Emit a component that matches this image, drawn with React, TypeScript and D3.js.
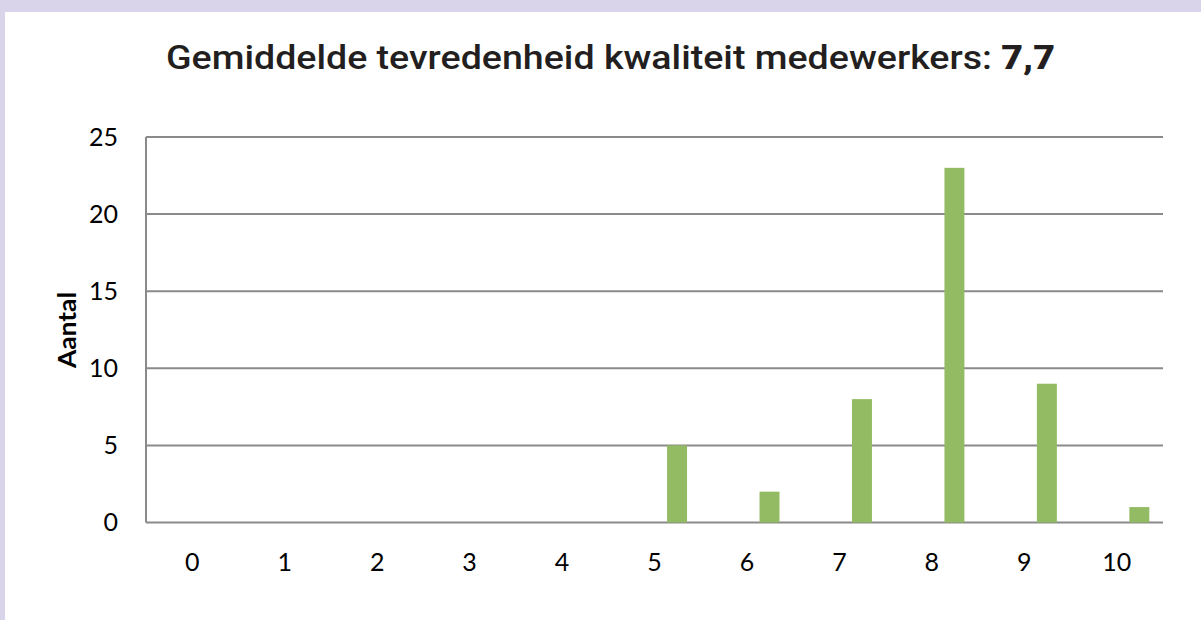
import * as d3 from "d3"
import { useEffect, useRef } from "react"

// scores 0..10 and number of respondents per score
const scores = ["0", "1", "2", "3", "4", "5", "6", "7", "8", "9", "10"]
const counts = [0, 0, 0, 0, 0, 5, 2, 8, 23, 9, 1]
const yTicks = [0, 5, 10, 15, 20, 25]
const titleText = "Gemiddelde tevredenheid kwaliteit medewerkers: "
const titleScore = "7,7"
const yLabel = "Aantal"

const W = 1201
const H = 620

const App = () => {
  const svgRef = useRef<SVGSVGElement | null>(null)

  useEffect(() => {
    if (!svgRef.current) return
    const svg = d3.select(svgRef.current)
    svg.selectAll("*").remove()

    const plot = { left: 146, right: 1163, top: 137, bottom: 522.5 }

    // frame: lavender border on top and left
    svg.append("rect").attr("width", W).attr("height", H).attr("fill", "#d9d4ea")
    svg.append("rect").attr("x", 5).attr("y", 12).attr("width", W - 5).attr("height", H - 12).attr("fill", "#ffffff")

    const x = d3.scaleBand().domain(scores).range([plot.left, plot.right]).padding(0)
    const y = d3.scaleLinear().domain([0, 25]).range([plot.bottom, plot.top])

    // gridlines
    svg
      .append("g")
      .selectAll("line")
      .data(yTicks)
      .enter()
      .append("line")
      .attr("x1", plot.left)
      .attr("x2", plot.right)
      .attr("y1", d => y(d))
      .attr("y2", d => y(d))
      .attr("stroke", "#8a8a8a")
      .attr("stroke-width", 2)

    // vertical axis line
    svg
      .append("line")
      .attr("x1", plot.left)
      .attr("x2", plot.left)
      .attr("y1", y(25))
      .attr("y2", y(0))
      .attr("stroke", "#8a8a8a")
      .attr("stroke-width", 2)

    const tickFont = "Lato, 'Noto Sans', sans-serif"

    // y tick labels
    svg
      .append("g")
      .selectAll("text")
      .data(yTicks)
      .enter()
      .append("text")
      .attr("x", 118)
      .attr("y", d => y(d))
      .attr("dy", "0.35em")
      .attr("text-anchor", "end")
      .style("font-family", tickFont)
      .style("font-size", "25px")
      .attr("fill", "#000")
      .text(d => d)

    // x tick labels
    svg
      .append("g")
      .selectAll("text")
      .data(scores)
      .enter()
      .append("text")
      .attr("x", d => (x(d) || 0) + x.bandwidth() / 2)
      .attr("y", 562)
      .attr("dy", "0.35em")
      .attr("text-anchor", "middle")
      .style("font-family", tickFont)
      .style("font-size", "25px")
      .attr("fill", "#000")
      .text(d => d)

    // bars sit right of the category centre
    const barW = x.bandwidth() * 0.216
    svg
      .append("g")
      .selectAll("rect")
      .data(scores.map((s, i) => ({ s, v: counts[i] })))
      .enter()
      .append("rect")
      .attr("x", d => (x(d.s) || 0) + x.bandwidth() * 0.744 - barW / 2)
      .attr("width", barW)
      .attr("y", d => y(d.v))
      .attr("height", d => y(0) - y(d.v))
      .attr("fill", "#93bb63")

    // y axis title
    svg
      .append("text")
      .attr("transform", `translate(67,330) rotate(-90)`)
      .attr("dy", "0.35em")
      .attr("text-anchor", "middle")
      .attr("textLength", 76)
      .attr("lengthAdjust", "spacingAndGlyphs")
      .style("font-family", tickFont)
      .style("font-size", "25px")
      .style("font-weight", "bold")
      .text(yLabel)

    // title
    const title = svg
      .append("text")
      .attr("x", 166)
      .attr("y", 69)
      .attr("textLength", 889)
      .attr("lengthAdjust", "spacingAndGlyphs")
      .style("font-family", "Roboto, sans-serif")
      .style("font-size", "34px")
      .style("font-weight", 500)
      .attr("fill", "#231f20")
    title.append("tspan").text(titleText)
    title.append("tspan").style("font-weight", 900).text(titleScore)
  }, [])

  return (
    <svg
      ref={svgRef}
      width={W}
      height={H}
      style={{ position: "absolute", left: 0, top: 0 }}
    />
  )
}

export default App
